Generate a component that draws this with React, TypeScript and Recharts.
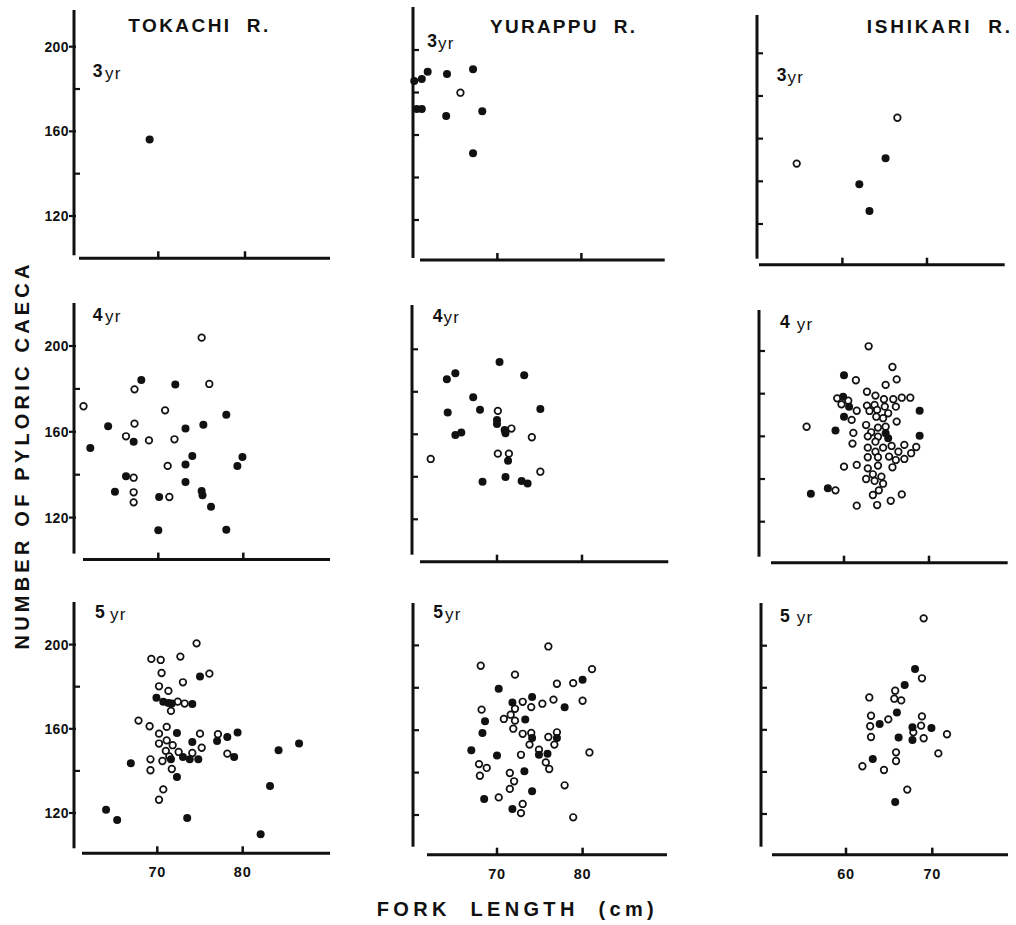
import React from 'react';
import { ScatterChart, Scatter, XAxis, YAxis } from 'recharts';

type Pt = [number, number];

// [fork length (cm), number of pyloric caeca]
const tokachi3Filled: Pt[] = [[69.0, 156.2]];
const tokachi3Open: Pt[] = [];

const yurappu3Filled: Pt[] = [
    [60.1, 185.4], [61.0, 186.4], [61.7, 189.8], [64.0, 188.7], [67.1, 190.9],
    [60.4, 172.2], [61.0, 172.2], [63.9, 168.9], [68.2, 171.2], [67.1, 151.4]
];
const yurappu3Open: Pt[] = [[65.6, 179.9]];

const ishikari3Filled: Pt[] = [[65.1, 150.8], [62.0, 138.6], [63.2, 126.1]];
const ishikari3Open: Pt[] = [[54.6, 148.3], [66.5, 169.8]];

const tokachi4Filled: Pt[] = [
    [62.0, 152.5], [64.1, 162.6], [68.0, 184.2], [72.0, 182.0], [67.1, 155.4], [66.2, 139.3],
    [64.9, 132.1], [70.1, 129.6], [70.0, 114.1], [73.2, 161.5], [75.3, 163.3], [78.0, 168.0],
    [74.0, 148.7], [73.2, 144.7], [73.2, 136.6], [75.1, 132.4], [75.2, 130.4], [76.2, 125.1],
    [78.0, 114.3], [79.3, 144.1], [79.9, 148.3]
];
const tokachi4Open: Pt[] = [
    [61.2, 171.9], [67.2, 179.8], [67.2, 163.8], [66.2, 157.9], [68.9, 156.0], [70.8, 170.0],
    [71.9, 156.5], [75.1, 203.9], [76.0, 182.3], [71.1, 144.1], [67.1, 138.6], [67.1, 131.8],
    [67.1, 127.1], [71.3, 129.6]
];

const yurappu4Filled: Pt[] = [
    [64.1, 185.9], [65.1, 188.7], [70.3, 194.0], [73.2, 187.8], [67.2, 177.4], [64.2, 170.2],
    [68.0, 171.6], [75.1, 171.9], [70.0, 166.7], [70.0, 164.9], [70.9, 162.0], [71.0, 160.5],
    [65.1, 159.7], [65.8, 160.8], [71.3, 147.6], [68.3, 137.7], [71.0, 139.9], [72.9, 138.0],
    [73.6, 136.8]
];
const yurappu4Open: Pt[] = [
    [62.2, 148.4], [70.1, 171.0], [71.7, 162.7], [74.1, 158.6], [70.1, 150.9], [71.4, 150.9],
    [75.1, 142.4]
];

const ishikari4Filled: Pt[] = [
    [60.0, 188.6], [59.9, 178.6], [60.6, 173.9], [60.0, 169.2], [59.0, 162.7], [68.9, 172.0],
    [68.9, 160.3], [64.9, 161.4], [65.2, 159.1], [58.1, 135.7], [56.1, 133.1]
];
const ishikari4Open: Pt[] = [
    [62.9, 202.2], [65.7, 192.5], [66.2, 186.7], [61.4, 186.3], [64.9, 184.1], [62.7, 180.9],
    [63.7, 179.1], [59.2, 177.8], [64.7, 177.4], [65.8, 177.4], [66.8, 178.1], [67.8, 178.1],
    [59.7, 175.0], [60.5, 176.7], [62.7, 174.4], [63.6, 174.7], [64.8, 173.9], [66.1, 173.9],
    [61.5, 172.0], [63.0, 171.9], [63.9, 172.4], [65.2, 170.8], [63.8, 169.2], [64.6, 168.5],
    [60.9, 167.7], [66.2, 166.9], [62.6, 165.3], [64.0, 164.1], [64.9, 164.5], [61.1, 161.6],
    [63.2, 161.9], [62.8, 160.0], [64.0, 159.8], [61.0, 156.6], [63.7, 157.5], [62.8, 154.7],
    [64.6, 154.7], [65.6, 155.5], [67.1, 156.0], [68.5, 155.0], [63.7, 152.8], [66.4, 152.8],
    [67.9, 152.1], [62.8, 150.2], [64.0, 150.2], [65.3, 150.5], [66.1, 148.9], [67.1, 149.4],
    [60.0, 145.8], [61.5, 146.6], [64.0, 146.3], [65.7, 145.5], [62.8, 145.0], [63.4, 142.2],
    [64.4, 141.1], [62.6, 140.0], [63.6, 139.1], [64.6, 137.8], [64.1, 134.7], [63.4, 132.5],
    [59.0, 134.7], [66.8, 132.8], [65.5, 129.8], [61.5, 127.5], [63.9, 127.8], [55.6, 164.5]
];

const tokachi5Filled: Pt[] = [
    [64.0, 121.6], [65.3, 116.7], [66.9, 143.6], [73.5, 117.6], [82.1, 109.9], [83.2, 132.8],
    [84.2, 149.8], [86.6, 153.0], [75.0, 184.8], [78.2, 156.1], [79.4, 158.2], [77.0, 154.2],
    [79.0, 146.6], [72.3, 137.1], [72.3, 158.0], [74.1, 171.8], [69.9, 174.7], [70.7, 172.8],
    [71.3, 172.3], [71.7, 172.0], [74.1, 153.7], [73.0, 146.6], [73.8, 145.5], [74.8, 145.5],
    [71.6, 145.5]
];
const tokachi5Open: Pt[] = [
    [74.6, 200.6], [69.3, 193.2], [70.4, 192.7], [72.7, 194.3], [70.5, 186.5], [76.1, 186.2],
    [73.0, 182.1], [70.2, 180.2], [71.3, 178.0], [72.4, 172.9], [73.2, 172.0], [71.6, 168.5],
    [67.8, 163.9], [69.1, 161.2], [71.1, 160.9], [70.2, 157.7], [75.0, 157.7], [77.1, 157.4],
    [70.2, 153.0], [71.1, 154.5], [71.8, 152.2], [75.2, 151.0], [78.2, 148.2], [71.0, 149.5],
    [72.5, 149.0], [74.1, 148.5], [69.2, 145.5], [70.6, 144.7], [71.4, 146.9], [71.7, 140.9],
    [69.2, 140.3], [70.7, 131.2], [70.2, 126.3]
];

const yurappu5Filled: Pt[] = [
    [80.0, 183.8], [70.2, 179.6], [74.1, 175.6], [71.8, 173.1], [77.9, 170.8], [68.6, 164.2],
    [73.3, 165.0], [68.3, 158.7], [74.1, 156.3], [77.0, 156.3], [67.0, 150.5], [70.0, 148.1],
    [74.9, 148.4], [75.9, 148.9], [73.2, 140.6], [74.1, 131.2], [68.5, 127.5], [71.8, 122.8]
];
const yurappu5Open: Pt[] = [
    [76.0, 199.5], [68.1, 190.4], [72.1, 186.2], [81.1, 188.8], [77.0, 181.9], [78.9, 182.2],
    [80.0, 173.9], [76.6, 174.4], [75.3, 172.5], [73.0, 173.4], [74.0, 170.9], [72.1, 170.1],
    [68.2, 169.7], [71.6, 167.3], [70.8, 165.3], [72.1, 164.5], [71.9, 160.7], [73.0, 158.3],
    [74.0, 158.7], [76.0, 156.8], [77.0, 159.0], [73.8, 153.2], [76.7, 153.2], [74.9, 150.8],
    [72.8, 148.4], [80.8, 149.5], [67.9, 144.0], [68.8, 142.2], [68.0, 138.5], [75.7, 144.8],
    [76.1, 141.7], [71.5, 139.8], [72.0, 135.9], [71.5, 132.3], [77.9, 134.0], [70.2, 128.3],
    [73.0, 125.2], [72.8, 120.9], [78.9, 118.9]
];

const ishikari5Filled: Pt[] = [
    [68.0, 188.9], [66.8, 181.3], [65.9, 168.3], [63.9, 162.8], [67.7, 161.2], [69.9, 160.9],
    [66.1, 156.4], [67.7, 155.2], [63.1, 146.1], [65.7, 125.7]
];
const ishikari5Open: Pt[] = [
    [69.0, 213.0], [68.8, 184.5], [65.7, 178.6], [62.7, 175.4], [65.6, 174.8], [66.4, 174.0],
    [62.9, 166.7], [64.9, 165.0], [62.8, 161.7], [68.8, 166.4], [68.7, 162.0], [67.8, 158.8],
    [62.9, 156.6], [69.0, 156.0], [71.7, 157.9], [65.8, 149.3], [65.8, 145.2], [70.7, 148.8],
    [61.9, 142.7], [64.4, 140.9], [67.1, 131.6]
];

const rivers = ['TOKACHI  R.', 'YURAPPU  R.', 'ISHIKARI  R.'];
const yTicks = [120, 140, 160, 180, 200];
const yLabelTicks = [120, 160, 200];

const FONT = '"Liberation Sans", Arial, Helvetica, sans-serif';
const INK = '#111';

const toRows = (pts: Pt[]) => pts.map(([x, y]) => ({ x, y }));

// pixel layout of each panel (scan is slightly skewed, so each gets its own box)
const panels = [
    { filled: tokachi3Filled, open: tokachi3Open, ax: 74, top: 10, bottom: 258.3, right: 330, xt: [70, 80], xp: [158.3, 245], y200: 46.7, y120: 216, xGap: 5, yGap: 3, yLabels: true, xLabels: false, age: '3', ageX: 92.7, yrX: 105, ageY: 77 },
    { filled: yurappu3Filled, open: yurappu3Open, ax: 413.3, top: 7, bottom: 260, right: 665, xt: [70, 80], xp: [497.7, 581.7], y200: 50, y120: 220, xGap: 7, yGap: 2, yLabels: false, xLabels: false, age: '3', ageX: 427.3, yrX: 438, ageY: 47 },
    { filled: ishikari3Filled, open: ishikari3Open, ax: 757.3, top: 15, bottom: 264.7, right: 1005, xt: [60, 70], xp: [842.7, 927.3], y200: 53.3, y120: 224, xGap: 2, yGap: 6, yLabels: false, xLabels: false, age: '3', ageX: 776.7, yrX: 787.5, ageY: 81 },
    { filled: tokachi4Filled, open: tokachi4Open, ax: 74, top: 302.7, bottom: 559.3, right: 330, xt: [70, 80], xp: [158.3, 243.3], y200: 345.7, y120: 517.3, xGap: 9, yGap: 6, yLabels: true, xLabels: false, age: '4', ageX: 92.7, yrX: 105, ageY: 320.7 },
    { filled: yurappu4Filled, open: yurappu4Open, ax: 411.7, top: 305, bottom: 561.7, right: 668, xt: [70, 80], xp: [496.7, 581.7], y200: 349.3, y120: 519.3, xGap: 8, yGap: 7, yLabels: false, xLabels: false, age: '4', ageX: 432.7, yrX: 443.5, ageY: 321.7 },
    { filled: ishikari4Filled, open: ishikari4Open, ax: 759.3, top: 310, bottom: 562.7, right: 1008, xt: [60, 70], xp: [844.3, 929.3], y200: 351, y120: 521.7, xGap: 12, yGap: 6, yLabels: false, xLabels: false, age: '4', ageX: 780, yrX: 796.7, ageY: 328 },
    { filled: tokachi5Filled, open: tokachi5Open, ax: 74, top: 601.7, bottom: 853, right: 330, xt: [70, 80], xp: [157.3, 242.7], y200: 644.3, y120: 812.7, xGap: 8, yGap: 5, yLabels: true, xLabels: true, age: '5', ageX: 95, yrX: 110, ageY: 618 },
    { filled: yurappu5Filled, open: yurappu5Open, ax: 412.7, top: 603.3, bottom: 855, right: 666.7, xt: [70, 80], xp: [496.7, 582.3], y200: 645.7, y120: 815.3, xGap: 14, yGap: 8, yLabels: false, xLabels: true, age: '5', ageX: 433.3, yrX: 445, ageY: 618 },
    { filled: ishikari5Filled, open: ishikari5Open, ax: 761, top: 603.3, bottom: 855, right: 1008, xt: [60, 70], xp: [846, 932.3], y200: 646, y120: 814.3, xGap: 11, yGap: 8, yLabels: false, xLabels: true, age: '5', ageX: 780, yrX: 796.7, ageY: 621.5 }
];

type PanelDef = typeof panels[number];

const FilledDot = (props: any) => <circle cx={props.cx} cy={props.cy} r={4.0} fill={INK} />;
const OpenDot = (props: any) => (
    <circle cx={props.cx} cy={props.cy} r={3.3} fill="#fff" stroke={INK} strokeWidth={1.7} />
);

const renderYTick = (showLabel: boolean) => (t: any) => {
    const { x, y, payload } = t;
    const labeled = showLabel && yLabelTicks.includes(payload.value);
    return (
        <g key={`yt-${payload.value}`}>
            <line x1={labeled ? x - 5 : x} x2={x + (labeled ? 2 : 6)} y1={y} y2={y} stroke={INK} strokeWidth={2.2} />
            {labeled && (
                <text x={x - 5} y={y} dy="0.36em" textAnchor="end" fontSize={14} fontWeight="bold"
                    fontFamily={FONT} fill={INK} letterSpacing={0.4}>
                    {payload.value}
                </text>
            )}
        </g>
    );
};

const renderXTick = (showLabel: boolean) => (t: any) => {
    const { x, y, payload } = t;
    return (
        <g key={`xt-${payload.value}`}>
            <line x1={x} x2={x} y1={y} y2={y - 7} stroke={INK} strokeWidth={2.5} />
            {showLabel && (
                <text x={x} y={y + 24} textAnchor="middle" fontSize={14.5} fontWeight="bold"
                    fontFamily={FONT} fill={INK} letterSpacing={0.8}>
                    {payload.value}
                </text>
            )}
        </g>
    );
};

const LW = 50;
const TM = 10;
const RM = 8;
const BH = 36;

function Panel({ p }: { p: PanelDef }) {
    const ppx = (p.xp[1] - p.xp[0]) / (p.xt[1] - p.xt[0]);
    const xMin = p.xt[0] + (p.ax - p.xp[0]) / ppx;
    const xMax = p.xt[0] + (p.right - p.xp[0]) / ppx;
    const ppy = (p.y120 - p.y200) / 80;
    const yMax = 200 + (p.y200 - p.top) / ppy;
    const yMin = 120 - (p.bottom - p.y120) / ppy;
    const plotW = p.right - p.ax;
    const plotH = p.bottom - p.top;

    return (
        <div style={{ position: 'absolute', left: p.ax - LW, top: p.top - TM }}>
            <ScatterChart width={plotW + LW + RM} height={plotH + TM + BH}
                margin={{ top: TM, right: RM, bottom: 0, left: 0 }}>
                <XAxis type="number" dataKey="x" domain={[xMin, xMax]} ticks={p.xt} interval={0}
                    height={BH} tickSize={0} tickMargin={0} tickLine={false}
                    axisLine={{ stroke: INK, strokeWidth: 3, strokeDasharray: `0 ${p.xGap} ${plotW + 20} 0` }}
                    tick={renderXTick(p.xLabels)} />
                <YAxis type="number" dataKey="y" domain={[yMin, yMax]} ticks={yTicks} interval={0}
                    width={LW} tickSize={0} tickMargin={0} tickLine={false}
                    axisLine={{ stroke: INK, strokeWidth: 3, strokeDasharray: `${plotH - p.yGap} ${p.yGap + 20}` }}
                    tick={renderYTick(p.yLabels)} />
                <Scatter data={toRows(p.open)} shape={OpenDot} isAnimationActive={false} />
                <Scatter data={toRows(p.filled)} shape={FilledDot} isAnimationActive={false} />
            </ScatterChart>
        </div>
    );
}

export default function App() {
    const titleX = [128.3, 490, 866.7];
    const titleW = [140, 145, 143.3];
    const titleY = [32, 33, 33];

    return (
        <div style={{ position: 'absolute', left: 0, top: 0, width: 1016, height: 925, background: '#fff', fontFamily: FONT }}>
            {panels.map((p, i) => <Panel key={i} p={p} />)}
            <svg width={1016} height={925} style={{ position: 'absolute', left: 0, top: 0, pointerEvents: 'none' }}>
                {rivers.map((r, i) => (
                    <text key={r} x={titleX[i]} y={titleY[i]} fontSize={19} fontWeight="bold" fill={INK}
                        fontFamily={FONT} textLength={titleW[i]} lengthAdjust="spacing" style={{ whiteSpace: 'pre' }}>
                        {r}
                    </text>
                ))}
                {panels.map((p, i) => (
                    <text key={`age-${i}`} fontFamily={FONT} fill={INK}>
                        <tspan x={p.ageX} y={p.ageY} fontSize={17.5} fontWeight="bold">{p.age}</tspan>
                        <tspan x={p.yrX} y={p.ageY + 1.5} fontSize={17} letterSpacing={1.2}>yr</tspan>
                    </text>
                ))}
                <text transform="translate(29, 457) rotate(-90)" textAnchor="middle" fontSize={20} fontWeight="bold"
                    fill={INK} fontFamily={FONT} textLength={385} lengthAdjust="spacing">
                    NUMBER OF PYLORIC CAECA
                </text>
                <text x={376.7} y={916} fontSize={20} fontWeight="bold" fill={INK} fontFamily={FONT}
                    textLength={277} lengthAdjust="spacing" style={{ whiteSpace: 'pre' }}>
                    {'FORK  LENGTH  (cm)'}
                </text>
            </svg>
        </div>
    );
}
